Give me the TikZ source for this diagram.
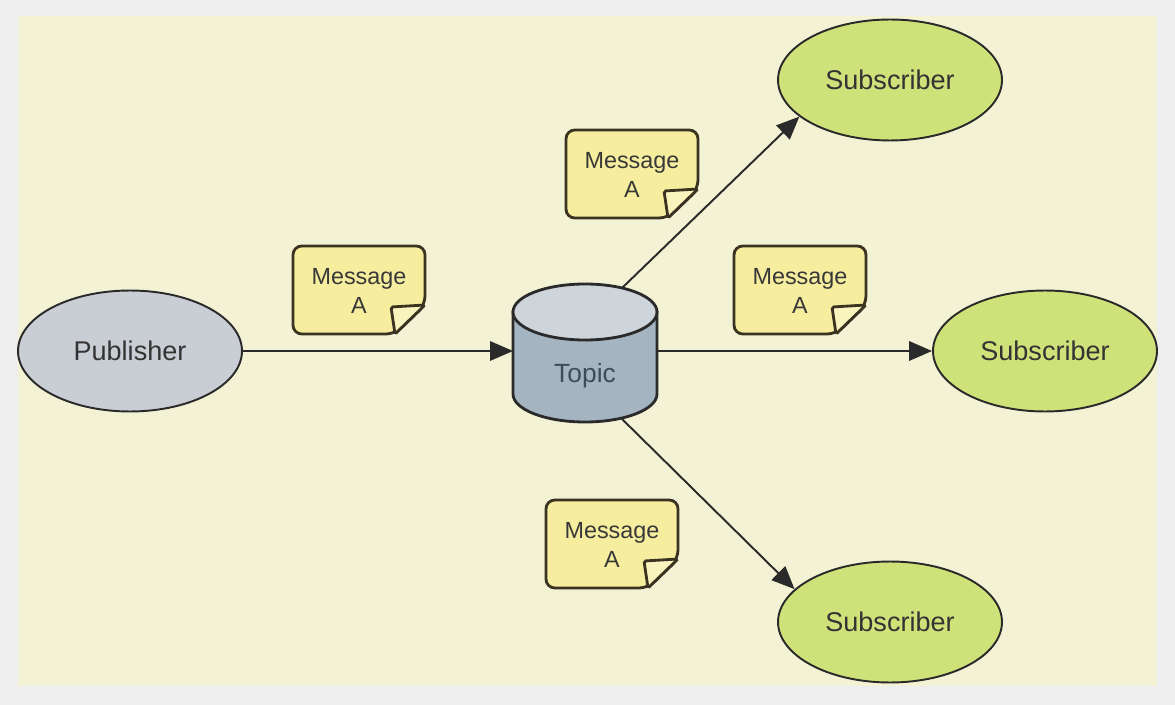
\documentclass[tikz,border=0pt]{standalone}
\usepackage{fontspec}
\setmainfont{Liberation Sans}
\usetikzlibrary{shapes.geometric,arrows.meta}

\definecolor{pagegray}{HTML}{EEEEEE}
\definecolor{cream}{HTML}{F4F2D4}
\definecolor{notefill}{HTML}{F6EE9E}
\definecolor{notefold}{HTML}{F9F4BE}
\definecolor{subgreen}{HTML}{CFE27A}
\definecolor{pubgray}{HTML}{C9CDD4}
\definecolor{topicbody}{HTML}{A4B4C0}
\definecolor{topictop}{HTML}{CDD5DB}
\definecolor{topictext}{HTML}{3E4C58}
\definecolor{inkline}{HTML}{2A2A2A}
\definecolor{noteline}{HTML}{3A3322}

\begin{document}
\begin{tikzpicture}[x=0.02cm, y=-0.02cm, >={Triangle[length=13pt,width=11pt]},
  actor/.style={ellipse, draw=inkline, line width=1.1pt, minimum width=4.48cm,
    minimum height=2.42cm, inner sep=0pt, text=black!80,
    font=\fontsize{15.4}{18}\selectfont},
  notebox/.style={draw=noteline, line width=1.6pt, fill=notefill, rounded corners=5pt},
  msgtext/.style={align=center, text=black!78, font=\fontsize{13.3}{16.5}\selectfont},
  topicline/.style={draw=inkline, line width=1.6pt},
  flow/.style={->, draw=inkline, line width=1.1pt}]

% Frame
\fill[pagegray] (0,0) rectangle (1175,705);
\fill[cream] (18,16) rectangle (1157,686);

% Publisher and subscribers
\node[actor, fill=pubgray] (pub) at (130,351) {Publisher};
\node[actor, fill=subgreen] (subtop) at (890,80) {Subscriber};
\node[actor, fill=subgreen] (submid) at (1045,351) {Subscriber};
\node[actor, fill=subgreen] (subbot) at (890,622) {Subscriber};

% Topic (cylinder)
\draw[topicline, fill=topicbody] (513,312) -- (513,394)
  arc[start angle=180, end angle=0, x radius=72, y radius=28] -- (657,312) -- cycle;
\draw[topicline, fill=topictop] (585,312) ellipse [x radius=72, y radius=28];
\node[text=topictext, font=\fontsize{15}{18}\selectfont] (topic) at (585,376) {Topic};
\coordinate (topicW) at (513,351);
\coordinate (topicE) at (657,351);
\coordinate (topicN) at (622,288);
\coordinate (topicS) at (622,419);

% Messages
\foreach \nm/\cx/\cy in {pubmsg/359/290, upmsg/632/174, midmsg/800/290, lowmsg/612/544} {
  \draw[notebox] ({\cx-66},{\cy-44}) -- ({\cx+66},{\cy-44}) -- ({\cx+66},{\cy+15})
    -- ({\cx+36},{\cy+44}) -- ({\cx-66},{\cy+44}) -- cycle;
  \draw[notebox, fill=notefold, rounded corners=1pt] ({\cx+66},{\cy+15})
    -- ({\cx+32},{\cy+17}) -- ({\cx+36},{\cy+44}) -- cycle;
  \node[msgtext] (\nm) at (\cx,{\cy+1}) {Message\\A};
}

% Connectors
\draw[flow] (pub.east) -- (topicW);
\draw[flow] (topicE) -- (submid.west);
\draw[flow] (topicN) -- (subtop.202);
\draw[flow] (topicS) -- (subbot.161);

\end{tikzpicture}
\end{document}
